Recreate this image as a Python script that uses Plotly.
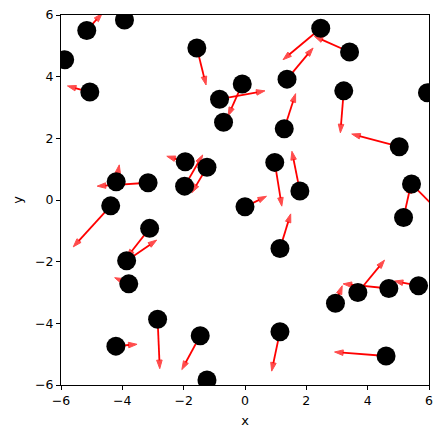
import plotly.graph_objects as go

# point positions
px = [-5.88, -5.16, -3.93, -5.06, -1.57, -0.83, -0.09, -0.70, -4.20, -3.16,
      -1.95, -1.24, -1.97, -4.38, 0.00, -3.11, -3.86, -3.79, -2.85, -4.21,
      -1.46, -1.24, 2.47, 3.41, 1.37, 3.22, 5.95, 1.28, 5.03, 0.97,
      1.79, 5.43, 5.17, 1.14, 2.95, 3.68, 4.69, 5.66, 1.14, 4.60]
py = [4.55, 5.50, 5.84, 3.50, 4.93, 3.27, 3.76, 2.52, 0.59, 0.56,
      1.24, 1.06, 0.45, -0.19, -0.22, -0.92, -1.97, -2.72, -3.87, -4.74,
      -4.40, -5.84, 5.57, 4.80, 3.92, 3.54, 3.48, 2.31, 1.73, 1.22,
      0.29, 0.52, -0.57, -1.57, -3.35, -3.00, -2.87, -2.78, -4.27, -5.06]
# arrow vectors (None = not visible)
pu = [-0.45, 0.50, None, -0.73, 0.30, 1.48, -0.46, None, 0.10, -1.66,
      -0.60, -0.49, 0.59, -1.22, 0.70, -0.75, 0.98, -0.46, 0.07, 0.69,
      -0.60, None, -1.23, -1.15, 0.85, -0.11, None, 0.37, -1.55, 0.23,
      -0.26, 0.90, 0.24, 0.35, 0.22, 0.87, -1.49, -0.79, -0.27, -1.68]
pv = [-0.50, 0.55, None, 0.20, -1.20, 0.27, -1.03, None, 0.55, -0.11,
      0.18, -0.82, 1.01, -1.33, 0.34, -0.95, 0.67, 0.20, -1.60, 0.06,
      -1.10, None, -1.02, 0.51, 1.01, -1.36, None, 1.14, 0.41, -1.42,
      1.29, -0.90, 1.07, 1.12, 0.57, 1.05, 0.15, 0.15, -1.28, 0.13]

fig = go.Figure()
for x0, y0, u, v in zip(px, py, pu, pv):
    if u is None:
        continue
    fig.add_trace(go.Scatter(
        x=[x0, x0 + u], y=[y0, y0 + v], mode="lines+markers",
        line=dict(color="red", width=1.8),
        marker=dict(symbol="arrow", size=[0, 9], color="red",
                    angleref="previous", line=dict(color="red", width=1)),
        showlegend=False, hoverinfo="skip"))

fig.add_trace(go.Scatter(
    x=px, y=py, mode="markers",
    marker=dict(color="black", size=19, line=dict(width=0)),
    showlegend=False))

axis_common = dict(range=[-6, 6], showgrid=False, zeroline=False, automargin=False,
                   showline=True, linecolor="black", linewidth=1, mirror=True,
                   ticks="outside", ticklen=4, tickcolor="black",
                   ticklabeloverflow="allow",
                   tickvals=[-6, -4, -2, 0, 2, 4, 6],
                   tickfont=dict(family="DejaVu Sans", size=12.5, color="black"))
fig.update_xaxes(title=dict(text="x", font=dict(family="DejaVu Sans", size=13, color="black"), standoff=8), **axis_common)
fig.update_yaxes(title=dict(text="y", font=dict(family="DejaVu Sans", size=13, color="black"), standoff=9), **axis_common)
fig.update_layout(width=435, height=430, margin=dict(l=53, r=14, t=7, b=53),
                  plot_bgcolor="white", paper_bgcolor="white")
fig.write_html("out.html")
